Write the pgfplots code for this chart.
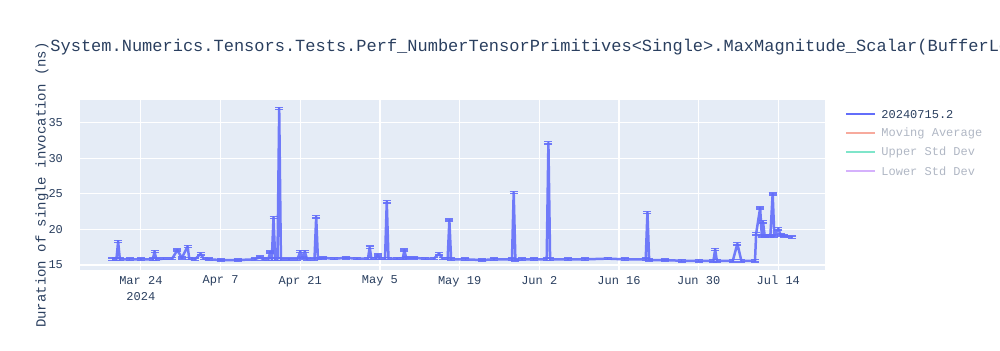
\documentclass[border=0pt]{standalone}
\usepackage{pgfplots}
\pgfplotsset{compat=1.18}
\usepackage{fontspec}
\setmainfont{Liberation Mono}
\definecolor{pblue}{HTML}{636EFA}
\definecolor{bgc}{HTML}{E5ECF6}
\definecolor{txt}{HTML}{2A3F5F}
\definecolor{fadetxt}{HTML}{B0B7C4}
\definecolor{fred}{HTML}{F7AA9D}
\definecolor{fgreen}{HTML}{7FE5CA}
\definecolor{fpurple}{HTML}{D5B1FC}
\pgfplotstableread{
x y
-5.0 15.8
-4.3 15.8
-4.0 18.3
-3.7 15.8
-2 15.8
0 15.8
2.1 15.8
2.4 16.9
2.7 15.8
4 15.9
5.5 15.9
6.4 17.1
7.2 16.0
8.2 17.6
8.5 15.9
9.5 15.8
10.5 16.6
11 15.9
12 15.8
14 15.7
17 15.7
20 15.8
20.9 16.1
21.5 15.8
22.4 15.8
22.7 16.8
23.0 15.8
23.3 21.7
23.6 15.8
24.0 15.8
24.3 37.0
24.6 15.8
26 15.8
27.5 15.8
28.0 16.9
28.4 16.0
28.8 16.9
29.2 15.8
30.5 15.8
30.8 21.8
31.1 15.9
32 16.0
34 15.9
36 16.0
38 15.9
39.9 15.9
40.2 17.5
40.5 15.9
41.3 15.9
41.6 16.4
41.9 15.9
42.9 15.9
43.2 23.9
43.5 15.9
45 15.9
46.0 15.9
46.3 17.1
46.6 16.0
48 16.0
50 15.9
51.5 15.9
52.4 16.6
53 15.9
53.9 15.9
54.2 21.3
54.5 15.8
57 15.8
60 15.7
62 15.8
65.2 15.8
65.5 25.2
65.8 15.7
67 15.8
69 15.8
71.3 15.8
71.6 32.2
71.9 15.8
75 15.8
78 15.8
82 15.9
85 15.8
88.7 15.8
89.0 22.4
89.3 15.7
92 15.7
95 15.6
98 15.6
100.6 15.6
100.9 17.2
101.2 15.6
104.0 15.6
104.8 18.0
105.5 15.6
107.9 15.6
108.1 19.4
108.8 23.0
109.1 19.1
109.3 21.1
109.6 19.1
110.6 19.1
111.0 25.0
111.3 19.1
112.0 20.1
112.4 19.2
113 19.1
114.4 18.9
}\datatable
\begin{document}
\begin{tikzpicture}
\useasboundingbox (0,0) rectangle (500pt,175pt);
\begin{axis}[
  at={(40pt,40pt)}, anchor=south west,
  scale only axis, width=372.5pt, height=85pt,
  xmin=-10.7, xmax=120.2, ymin=14.3, ymax=38.2,
  axis background/.style={fill=bgc},
  axis line style={draw=none},
  major tick length=0pt,
  grid=major, major grid style={white, line width=0.6pt},
  xtick={0,14,28,42,56,70,84,98,112},
  xticklabels={{Mar 24\\2024},Apr 7,Apr 21,May 5,May 19,Jun 2,Jun 16,Jun 30,Jul 14},
  ytick={15,20,25,30,35},
  /pgf/number format/assume math mode=true,
  xticklabel style={font=\fontsize{6}{8}\selectfont, text=txt, align=center, yshift=0.5pt},
  yticklabel style={font=\fontsize{6}{7}\selectfont, text=txt, xshift=-5pt},
  clip=false,
]
\addplot[pblue, line width=1.25pt, opacity=0.9, line join=round,
  error bars/.cd, y dir=both, y fixed=0.15,
  error bar style={pblue, line width=0.8pt},
  error mark options={pblue, mark size=2pt, line width=0.8pt, rotate=90}]
  table[x=x, y=y] {\datatable};
\end{axis}
\node[anchor=base west, inner sep=0pt, font=\fontsize{8.5}{10}\selectfont, text=txt] at (25pt,149.5pt)
  {System.Numerics.Tensors.Tests.Perf\_NumberTensorPrimitives<Single>.MaxMagnitude\_Scalar(BufferLength: 128)};
\node[rotate=90, font=\fontsize{7}{8}\selectfont, text=txt] at (21pt,82.5pt)
  {Duration of single invocation (ns)};
% legend
\draw[pblue, line width=1pt] (423pt,117.85pt) -- (437.5pt,117.85pt);
\node[anchor=west, inner sep=0pt, font=\fontsize{6}{7}\selectfont, text=txt] at (440.5pt,117.85pt) {20240715.2};
\draw[fred, line width=1pt] (423pt,108.35pt) -- (437.5pt,108.35pt);
\node[anchor=west, inner sep=0pt, font=\fontsize{6}{7}\selectfont, text=fadetxt] at (440.5pt,108.35pt) {Moving Average};
\draw[fgreen, line width=1pt] (423pt,98.85pt) -- (437.5pt,98.85pt);
\node[anchor=west, inner sep=0pt, font=\fontsize{6}{7}\selectfont, text=fadetxt] at (440.5pt,98.85pt) {Upper Std Dev};
\draw[fpurple, line width=1pt] (423pt,89.5pt) -- (437.5pt,89.5pt);
\node[anchor=west, inner sep=0pt, font=\fontsize{6}{7}\selectfont, text=fadetxt] at (440.5pt,89.5pt) {Lower Std Dev};
\end{tikzpicture}
\end{document}
